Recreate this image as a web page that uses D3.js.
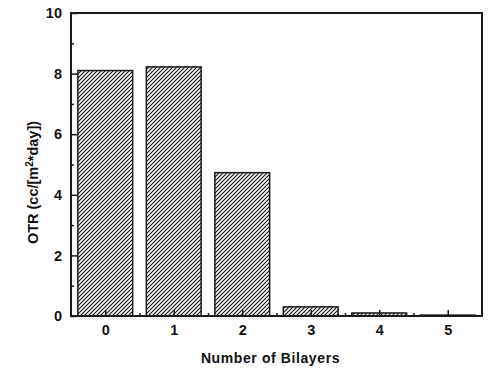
<!DOCTYPE html>
<html>
<head>
<meta charset="utf-8">
<script src="https://cdn.jsdelivr.net/npm/d3@7"></script>
<style>
  body { margin: 0; background: #fff; }
  text { font-family: "Liberation Sans", Arial, sans-serif; font-weight: bold; fill: #111; }
</style>
</head>
<body>
<div id="chart"></div>
<script>
var WIDTH = 500;
var HEIGHT = 371;
var MARGIN = { top: 13, right: 18, bottom: 55, left: 71 };

// values
var bilayers = [0, 1, 2, 3, 4, 5];
var otr = [8.1, 8.22, 4.73, 0.3, 0.1, 0.03];
var yTicks = [0, 2, 4, 6, 8, 10];
var yMinorTicks = [1, 3, 5, 7, 9];
var xMinorTicks = [0.5, 1.5, 2.5, 3.5, 4.5];

var plotW = WIDTH - MARGIN.left - MARGIN.right;
var plotH = HEIGHT - MARGIN.top - MARGIN.bottom;

var svg = d3.select("#chart").append("svg")
  .attr("width", WIDTH)
  .attr("height", HEIGHT);

// hatch fill for the bars
var pattern = svg.append("defs").append("pattern")
  .attr("id", "hatch")
  .attr("patternUnits", "userSpaceOnUse")
  .attr("width", 4)
  .attr("height", 4);
pattern.append("rect")
  .attr("width", 4)
  .attr("height", 4)
  .attr("fill", "#fff");
pattern.append("path")
  .attr("d", "M-1,1 l2,-2 M0,4 l4,-4 M3,5 l2,-2")
  .attr("stroke", "#1a1a1a")
  .attr("stroke-width", 1.2);

var plot = svg.append("g")
  .attr("transform", "translate(" + MARGIN.left + "," + MARGIN.top + ")");

var x = d3.scaleLinear().domain([-0.5, 5.5]).range([0, plotW]);
var y = d3.scaleLinear().domain([0, 10]).range([plotH, 0]);
var barW = (x(1) - x(0)) * 0.8;

// bars
plot.selectAll(".bar")
  .data(bilayers)
  .enter()
  .append("rect")
  .attr("class", "bar")
  .attr("x", function(d) { return x(d) - barW / 2; })
  .attr("y", function(d, i) { return y(otr[i]); })
  .attr("width", barW)
  .attr("height", function(d, i) { return plotH - y(otr[i]); })
  .attr("fill", "url(#hatch)")
  .attr("stroke", "#1a1a1a")
  .attr("stroke-width", 1.5);

// frame
plot.append("rect")
  .attr("width", plotW)
  .attr("height", plotH)
  .attr("fill", "none")
  .attr("stroke", "#1a1a1a")
  .attr("stroke-width", 2);

// y axis, ticks point inward
var yAxis = plot.append("g")
  .call(d3.axisLeft(y).tickValues(yTicks).tickSize(-6).tickPadding(9));
yAxis.select(".domain").remove();
yAxis.selectAll("line").attr("stroke", "#1a1a1a").attr("stroke-width", 1.5);
yAxis.selectAll("text").style("font-size", "14.5px");
plot.append("g")
  .call(d3.axisLeft(y).tickValues(yMinorTicks).tickSize(-3).tickFormat(""))
  .call(function(g) {
    g.select(".domain").remove();
    g.selectAll("line").attr("stroke", "#1a1a1a").attr("stroke-width", 1.5);
  });

// x axis
var xAxis = plot.append("g")
  .attr("transform", "translate(0," + plotH + ")")
  .call(d3.axisBottom(x).tickValues(bilayers).tickFormat(d3.format("d"))
    .tickSize(-6).tickPadding(9));
xAxis.select(".domain").remove();
xAxis.selectAll("line").attr("stroke", "#1a1a1a").attr("stroke-width", 1.5);
xAxis.selectAll("text").style("font-size", "14.5px");
plot.append("g")
  .attr("transform", "translate(0," + plotH + ")")
  .call(d3.axisBottom(x).tickValues(xMinorTicks).tickSize(-3).tickFormat(""))
  .call(function(g) {
    g.select(".domain").remove();
    g.selectAll("line").attr("stroke", "#1a1a1a").attr("stroke-width", 1.5);
  });

// axis titles
svg.append("text")
  .attr("x", MARGIN.left + plotW / 2 - 6)
  .attr("y", 363)
  .attr("text-anchor", "middle")
  .style("font-size", "14px")
  .style("letter-spacing", "0.6px")
  .text("Number of Bilayers");

var yTitle = svg.append("text")
  .attr("transform", "translate(38," + (MARGIN.top + plotH / 2 + 18) + ") rotate(-90)")
  .attr("text-anchor", "middle")
  .style("font-size", "14.5px");
yTitle.append("tspan").text("OTR (cc/[m");
yTitle.append("tspan").attr("dy", -5).style("font-size", "10px").text("2");
yTitle.append("tspan").attr("dy", 5).text("*day])");
</script>
</body>
</html>
